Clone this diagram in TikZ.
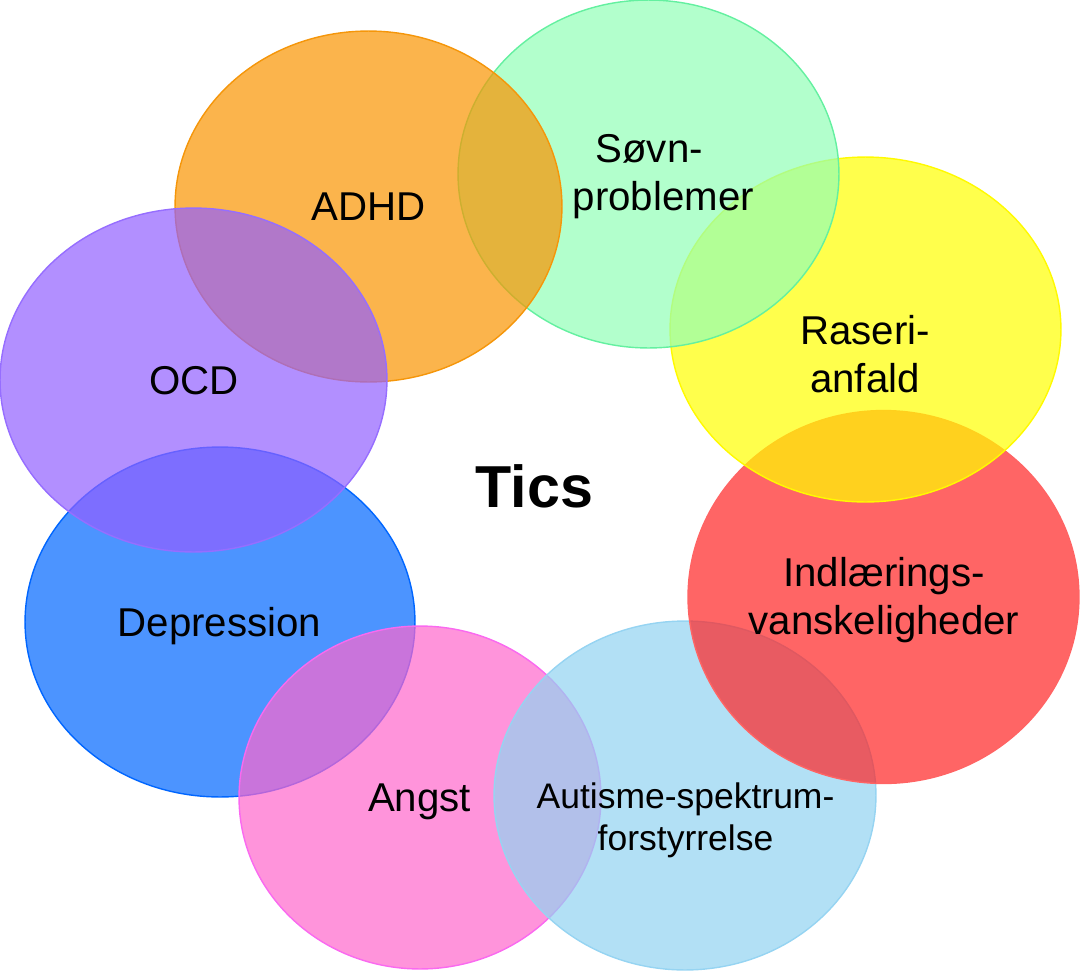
\documentclass[tikz,border=0pt]{standalone}
\usepackage{fontspec}
\setmainfont{Liberation Sans}
\usepackage{tikz}
\usetikzlibrary{shapes.geometric,positioning}
\definecolor{depfill}{RGB}{0,102,255}
\definecolor{depline}{RGB}{0,102,255}
\definecolor{angstfill}{RGB}{255,102,204}
\definecolor{angstline}{RGB}{250,105,240}
\definecolor{autfill}{RGB}{146,211,241}
\definecolor{autline}{RGB}{150,212,242}
\definecolor{learnfill}{RGB}{255,36,36}
\definecolor{learnline}{RGB}{255,100,100}
\definecolor{ragefill}{RGB}{255,255,0}
\definecolor{rageline}{RGB}{255,250,0}
\definecolor{sleepfill}{RGB}{146,255,182}
\definecolor{sleepline}{RGB}{100,240,160}
\definecolor{adhdfill}{RGB}{249,148,0}
\definecolor{adhdline}{RGB}{245,150,10}
\definecolor{ocdfill}{RGB}{146,95,255}
\definecolor{ocdline}{RGB}{150,110,255}

\begin{document}
\begin{tikzpicture}[x=0.02cm,y=-0.02cm,line width=0.8pt]
  \tikzstyle{blob}=[ellipse,inner sep=0pt,fill opacity=0.7]
  \tikzstyle{lbl}=[inner sep=0pt,align=center,text=black,
                   font=\fontsize{22.9}{27.4}\selectfont]

  \useasboundingbox (0,0) rectangle (1080,971);

  \node[blob,fill=depfill,draw=depline,minimum width=7.80cm,minimum height=7.00cm] (dep) at (220,622) {};
  \node[blob,fill=angstfill,draw=angstline,minimum width=7.24cm,minimum height=6.86cm] (angst) at (420,797.5) {};
  \node[blob,fill=autfill,draw=autline,minimum width=7.64cm,minimum height=6.98cm] (aut) at (685,795.5) {};
  \node[blob,fill=learnfill,draw=learnline,minimum width=7.82cm,minimum height=7.46cm] (learn) at (883.5,597) {};
  \node[blob,fill=ragefill,draw=rageline,minimum width=7.82cm,minimum height=6.90cm] (rage) at (865.5,329.5) {};
  \node[blob,fill=sleepfill,draw=sleepline,minimum width=7.62cm,minimum height=6.96cm] (sleep) at (648.5,174) {};
  \node[blob,fill=adhdfill,draw=adhdline,minimum width=7.74cm,minimum height=7.02cm] (adhd) at (368.5,206.5) {};
  \node[blob,fill=ocdfill,draw=ocdline,minimum width=7.74cm,minimum height=6.88cm] (ocd) at (193.5,380) {};

  \node[lbl] (adhdT) at (368.5,206.5) {ADHD};
  \node[lbl,align=left,anchor=west] (sleepT) at (572,177) {\hspace*{13pt}Søvn-\\problemer};
  \node[lbl] (rageT) at (865,354.5) {Raseri-\\anfald};
  \node[lbl] (learnT) at (884,600) {Indlærings-\\vanskeligheder};
  \node[lbl,font=\fontsize{20.2}{23.8}\selectfont] (autT) at (685.5,820) {Autisme-spektrum-\\forstyrrelse};
  \node[lbl] (angstT) at (419.5,802) {Angst};
  \node[lbl] (depT) at (219.5,626.5) {Depression};
  \node[lbl] (ocdT) at (194,380.5) {OCD};
  \node[lbl,font=\bfseries\fontsize{33.7}{40}\selectfont] (tics) at (534.5,486) {Tics};
\end{tikzpicture}
\end{document}
